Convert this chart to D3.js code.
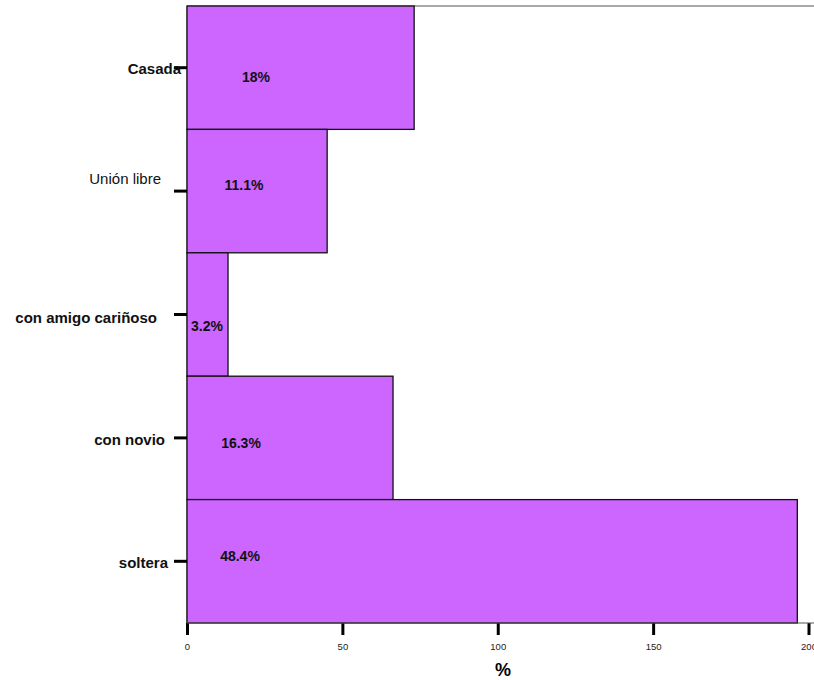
<!DOCTYPE html>
<html><head><meta charset="utf-8">
<script src="https://cdn.jsdelivr.net/npm/d3@7"></script>
<style>body{margin:0;background:#fff}svg{display:block}text{font-family:"Liberation Sans",Arial,sans-serif}</style>
</head><body><svg id="c" width="814" height="680"></svg>
<script>
const categories = ["Casada", "Unión libre", "con amigo cariñoso", "con novio", "soltera"];
const counts = [73.1, 45.1, 13.2, 66.3, 196.4];
const percentLabels = ["18%", "11.1%", "3.2%", "16.3%", "48.4%"];
const xTicks = [0, 50, 100, 150, 200];
const boldCategory = [true, false, true, true, true];
// layout-only tweaks (label placement as in the reference)
const catLabelDx = [-6, -26, -30, -22, -19];
const catLabelDy = [1, -12, 3, 2, 1];
const valLabelCx = [256, 244, 207, 241, 240];
const valLabelDy = [9, -6, 12, 5, -5];

const svg = d3.select("#c");
const m = {left: 187, top: 6, right: 0, bottom: 57};
const W = 814, H = 680;
const x = d3.scaleLinear().domain([0, 200]).range([187, 808.5]);
const y = d3.scaleBand().domain(categories).range([m.top, H - m.bottom]).padding(0);

// frame lines
svg.append("line").attr("x1", 187).attr("x2", W).attr("y1", m.top).attr("y2", m.top).attr("stroke", "#555").attr("stroke-width", 1);
svg.append("line").attr("x1", 187).attr("x2", 187).attr("y1", m.top).attr("y2", H - m.bottom).attr("stroke", "#777").attr("stroke-width", 1);

// bars
svg.selectAll("rect.bar").data(categories).join("rect")
  .attr("class", "bar")
  .attr("x", x(0))
  .attr("y", d => y(d))
  .attr("width", (d, i) => x(counts[i]) - x(0))
  .attr("height", y.bandwidth())
  .attr("fill", "#CC66FF")
  .attr("stroke", "#111")
  .attr("stroke-width", 1.3);

// x axis
const xAxis = d3.axisBottom(x).tickValues(xTicks).tickSize(12).tickPadding(8).tickFormat(d3.format("d"));
const gx = svg.append("g").attr("transform", `translate(0,${H - m.bottom})`).call(xAxis);
gx.select(".domain").remove();
gx.append("line").attr("x1", 187).attr("x2", W).attr("y1", 0).attr("y2", 0).attr("stroke", "#555").attr("stroke-width", 1.2);
gx.selectAll(".tick line").attr("stroke", "#000").attr("stroke-width", 3);
gx.selectAll(".tick text").attr("font-size", 9.5).attr("fill", "#222").attr("font-family", "Liberation Sans, Arial");

svg.append("text").attr("x", 503).attr("y", 676).attr("text-anchor", "middle")
  .attr("font-size", 18).attr("font-weight", "bold").text("%");

// y axis ticks
const yAxis = d3.axisLeft(y).tickSize(13).tickFormat("");
const gy = svg.append("g").attr("transform", `translate(187,0)`).call(yAxis);
gy.select(".domain").remove();
gy.selectAll(".tick line").attr("stroke", "#000").attr("stroke-width", 3);

// category labels
svg.selectAll("text.cat").data(categories).join("text")
  .attr("class", "cat")
  .attr("x", (d, i) => 187 + catLabelDx[i])
  .attr("y", (d, i) => y(d) + y.bandwidth() / 2 + catLabelDy[i])
  .attr("dy", "0.35em")
  .attr("text-anchor", "end")
  .attr("font-size", 15)
  .attr("font-weight", (d, i) => boldCategory[i] ? "bold" : "normal")
  .attr("fill", "#111")
  .text(d => d);

// value labels
svg.selectAll("text.val").data(categories).join("text")
  .attr("class", "val")
  .attr("x", (d, i) => valLabelCx[i])
  .attr("y", (d, i) => y(d) + y.bandwidth() / 2 + valLabelDy[i])
  .attr("dy", "0.35em")
  .attr("text-anchor", "middle")
  .attr("font-size", 14)
  .attr("font-weight", "bold")
  .attr("fill", "#111")
  .text((d, i) => percentLabels[i]);
</script>
</body></html>
